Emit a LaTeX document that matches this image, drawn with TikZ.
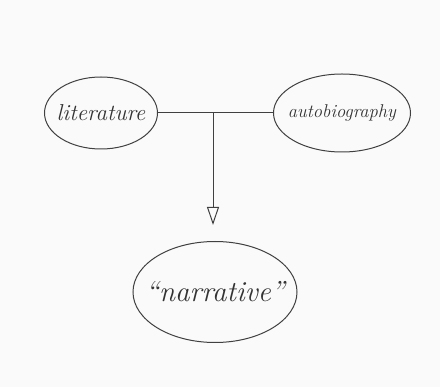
\documentclass[tikz,border=0pt]{standalone}
\usetikzlibrary{arrows.meta,shapes.geometric}
\begin{document}
\begin{tikzpicture}[x=1pt, y=-1pt, line width=1pt, black!75,
    oval/.style = {ellipse, draw, inner sep=0pt},
    hand/.style = {font=\fontsize{#1}{#1}\selectfont\itshape, text=black!80}]
    \fill [black!2] (0,0) rectangle (440,387);
    \useasboundingbox (0,0) rectangle (440,387);
    \node [oval, minimum width=113pt, minimum height=72pt, label={[hand=23]center:literature}] (lit) at (101, 113) {};
    \node [oval, minimum width=137pt, minimum height=78pt, label={[hand=18.5]center:autobiography}] (auto) at (342, 113) {};
    \node [oval, minimum width=164pt, minimum height=101pt, label={[hand=29]center:``narrative''}] (nar) at (215, 292) {};
    \coordinate (jn) at (213, 113);
    \coordinate (tip) at (213, 225);
    \draw (lit.east) -- (auto.west);
    \draw [-{Triangle[open, length=18pt, width=12pt]}] (jn) -- (tip);
\end{tikzpicture}
\end{document}
